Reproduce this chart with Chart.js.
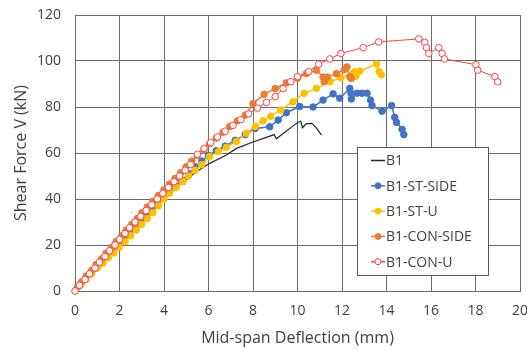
<!DOCTYPE html>
<html>
<head>
<meta charset="utf-8">
<script src="https://cdn.jsdelivr.net/npm/chart.js@4.4.1/dist/chart.umd.min.js"></script>
<style>
  html, body { margin: 0; padding: 0; background: #ffffff; }
  #wrap { width: 527px; height: 351px; position: relative; }
</style>
</head>
<body>
<div id="wrap"><canvas id="c" width="527" height="351"></canvas></div>
<script>
// ---- data (deflection mm, shear force kN) ----
const seriesNames = ['B1', 'B1-ST-SIDE', 'B1-ST-U', 'B1-CON-SIDE', 'B1-CON-U'];
const xTicks = [0, 2, 4, 6, 8, 10, 12, 14, 16, 18, 20];
const yTicks = [0, 20, 40, 60, 80, 100, 120];

const b1X = [0.25, 1.0, 2.0, 3.0, 4.0, 4.7, 5.46, 6.06, 6.8, 7.26, 8.0, 8.6, 8.95, 9.05, 9.4, 9.8, 10.05, 10.15, 10.22, 10.4, 10.65, 10.85, 11.08];
const b1Y = [2.5, 10, 19, 29, 40, 46.1, 51.9, 55.5, 59.1, 62, 64.8, 66.8, 68, 66.2, 68.8, 71.8, 73.5, 73.8, 71, 72.8, 72.9, 70.8, 67.8];

const stSideX = [0.2, 0.45, 0.7, 0.95, 1.2, 1.45, 1.7, 1.95, 2.2, 2.45, 2.7, 2.95, 3.2, 3.45, 3.7, 3.95, 4.2, 4.5, 4.8, 5.1, 5.4, 5.7, 6.0, 6.35, 6.75, 7.2, 7.65, 8.1, 8.75, 9.13, 9.5, 10.1, 10.7, 11.15, 11.6, 11.9, 12.35, 12.4, 12.42, 12.68, 12.9, 13.13, 13.28, 13.35, 13.8, 14.23, 14.37, 14.45, 14.7, 14.78];
const stSideY = [2.5, 5, 7.5, 10, 12.5, 14.5, 17, 19.5, 22, 24.5, 27, 29.5, 32, 34.5, 37.5, 40.5, 43, 45.5, 48, 51, 54, 56.5, 59, 61, 63, 65.5, 68, 70.7, 71.4, 74.3, 77.5, 80.2, 80, 83, 85.7, 83.8, 88.1, 86, 83.5, 86, 86, 86, 83, 80.6, 78.2, 80.6, 75.5, 73.3, 70.3, 68];

const stUX = [0.25, 0.5, 0.75, 1.0, 1.25, 1.5, 1.75, 2.0, 2.25, 2.5, 2.75, 3.0, 3.25, 3.5, 3.75, 4.0, 4.25, 4.55, 4.85, 5.1, 5.4, 5.7, 6.05, 6.45, 6.8, 7.25, 7.7, 8.1, 8.45, 8.8, 9.25, 9.8, 10.3, 10.85, 11.45, 11.95, 12.5, 12.57, 12.63, 12.8, 13.55, 13.67, 13.77];
const stUY = [2.5, 5, 7.5, 10, 12, 14.5, 16.5, 19, 21.5, 24, 26.5, 29, 31.5, 34, 37, 40, 42.5, 45, 47.5, 50, 52.5, 55, 58.4, 60.6, 62.5, 65, 68.6, 71.5, 74, 76, 78.7, 82.3, 86, 88.1, 91, 92.7, 94.5, 95.3, 93.4, 95.6, 98.7, 95.4, 94];

const conSideX = [0.1, 0.3, 0.5, 0.75, 0.95, 1.2, 1.4, 1.65, 1.85, 2.1, 2.3, 2.55, 2.8, 3.0, 3.25, 3.5, 3.75, 4.0, 4.25, 4.5, 4.75, 5.0, 5.25, 5.5, 5.8, 6.05, 6.35, 6.65, 6.95, 7.3, 7.65, 8.0, 8.5, 9.0, 9.5, 10.0, 10.4, 10.85, 11.15, 11.2, 11.35, 11.75, 12.1, 12.22, 12.35, 12.42];
const conSideY = [1.5, 4, 6.5, 9, 11.5, 14, 16.5, 19, 21.5, 24, 26.5, 29, 31.5, 34, 36.5, 39, 41.5, 44, 46.5, 49, 51.5, 54, 56.5, 59, 61.5, 64, 66.5, 69, 71.5, 74, 76.5, 81.5, 85.5, 88, 90.5, 92.5, 94.5, 96, 93, 91, 93, 94.5, 96.2, 97.4, 93.2, 92.4];

const conUX = [0, 0.2, 0.45, 0.65, 0.9, 1.1, 1.35, 1.55, 1.8, 2.0, 2.25, 2.45, 2.7, 2.95, 3.2, 3.45, 3.7, 3.95, 4.2, 4.45, 4.7, 4.95, 5.2, 5.5, 5.8, 6.1, 6.4, 6.75, 7.1, 7.45, 7.8, 8.2, 8.6, 9.0, 9.35, 9.7, 10.0, 10.5, 10.95, 11.45, 11.95, 12.95, 13.65, 15.45, 15.72, 15.8, 15.9, 16.35, 16.5, 16.6, 18.02, 18.1, 18.87, 19.0];
const conUY = [0, 2.5, 5, 7.5, 10, 12.5, 15, 17.5, 20, 22.5, 25, 27.5, 30, 32.5, 35, 37.5, 40, 42.5, 45, 47.5, 50, 52.5, 55, 59.5, 62, 64.5, 67, 69.5, 72, 74.5, 77, 79.5, 82, 84.5, 88, 91, 93.2, 95.4, 98.6, 100.9, 103.3, 105.8, 108.3, 109.6, 108.1, 105.8, 103.3, 105.8, 103.3, 100.9, 98.4, 96, 93.2, 90.9];

const toPts = (xs, ys) => xs.map((x, i) => ({ x: x, y: ys[i] }));

const FONT = "'Open Sans', 'Noto Sans', sans-serif";
const GRID = '#6b6b6b';
const TEXT = '#404040';

const styles = [
  { color: '#262626', marker: false, width: 1.2 },
  { color: '#4472C4', marker: 'fill', width: 1.5 },
  { color: '#FFC000', marker: 'fill', width: 1.5 },
  { color: '#ED7D31', marker: 'fill', width: 1.5 },
  { color: '#FF4040', marker: 'open', width: 1 }
];
const allPts = [toPts(b1X, b1Y), toPts(stSideX, stSideY), toPts(stUX, stUY), toPts(conSideX, conSideY), toPts(conUX, conUY)];

const datasets = seriesNames.map((name, i) => {
  const s = styles[i];
  return {
    label: name,
    data: allPts[i],
    showLine: true,
    borderColor: s.color,
    borderWidth: s.width,
    backgroundColor: s.color,
    pointRadius: s.marker ? 3.3 : 0,
    pointHoverRadius: 0,
    pointBorderWidth: 1,
    pointBorderColor: s.color,
    pointBackgroundColor: s.marker === 'open' ? '#ffffff' : s.color,
    tension: 0,
    clip: false,
    order: seriesNames.length - i
  };
});

const boxLegend = {
  id: 'boxLegend',
  afterDraw(chart) {
    const ctx = chart.ctx;
    const x0 = 357, y0 = 147, w = 131, h = 128;
    ctx.save();
    ctx.fillStyle = '#ffffff';
    ctx.fillRect(x0, y0, w, h);
    ctx.strokeStyle = '#595959';
    ctx.lineWidth = 1;
    ctx.strokeRect(x0 + 0.5, y0 + 0.5, w, h);
    ctx.font = '14px ' + FONT;
    ctx.textBaseline = 'middle';
    ctx.textAlign = 'left';
    chart.data.datasets.forEach((ds, i) => {
      const s = styles[i];
      const cy = 160.5 + i * 25.3;
      ctx.strokeStyle = s.color;
      ctx.lineWidth = 1.5;
      ctx.beginPath();
      ctx.moveTo(371, cy);
      ctx.lineTo(385, cy);
      ctx.stroke();
      if (s.marker) {
        ctx.beginPath();
        ctx.arc(378, cy, 3, 0, Math.PI * 2);
        ctx.fillStyle = s.marker === 'open' ? '#ffffff' : s.color;
        ctx.fill();
        ctx.lineWidth = 1;
        ctx.stroke();
      }
      ctx.fillStyle = TEXT;
      ctx.fillText(ds.label, 386, cy + 1);
    });
    ctx.restore();
  }
};

new Chart(document.getElementById('c'), {
  type: 'scatter',
  data: { datasets: datasets },
  plugins: [boxLegend],
  options: {
    responsive: false,
    animation: false,
    devicePixelRatio: 1,
    layout: { padding: { left: 0, top: 15, right: 7, bottom: 0 } },
    plugins: { legend: { display: false }, tooltip: { enabled: false } },
    scales: {
      x: {
        type: 'linear',
        min: 0, max: 20,
        afterBuildTicks: (s) => { s.ticks = xTicks.map(v => ({ value: v })); },
        afterFit: (s) => { s.height = 60; s.paddingRight = 0; s.paddingLeft = 0; },
        ticks: { color: TEXT, font: { family: FONT, size: 14 }, padding: 12, maxRotation: 0, autoSkip: false },
        grid: { color: GRID, lineWidth: 1, drawTicks: false },
        border: { color: GRID, width: 1 },
        title: { display: true, text: 'Mid-span Deflection (mm)', color: TEXT, font: { family: FONT, size: 16 }, padding: { top: 4, bottom: 3 } }
      },
      y: {
        type: 'linear',
        min: 0, max: 120,
        afterBuildTicks: (s) => { s.ticks = yTicks.map(v => ({ value: v })); },
        afterFit: (s) => { s.width = 75; s.paddingTop = 0; s.paddingBottom = 0; },
        ticks: { color: TEXT, font: { family: FONT, size: 14 }, padding: 14 },
        grid: { color: GRID, lineWidth: 1, drawTicks: false },
        border: { color: GRID, width: 1 },
        title: { display: true, text: 'Shear Force V (kN)', color: TEXT, font: { family: FONT, size: 16 }, padding: { top: 12, bottom: 4 } }
      }
    }
  }
});
</script>
</body>
</html>
